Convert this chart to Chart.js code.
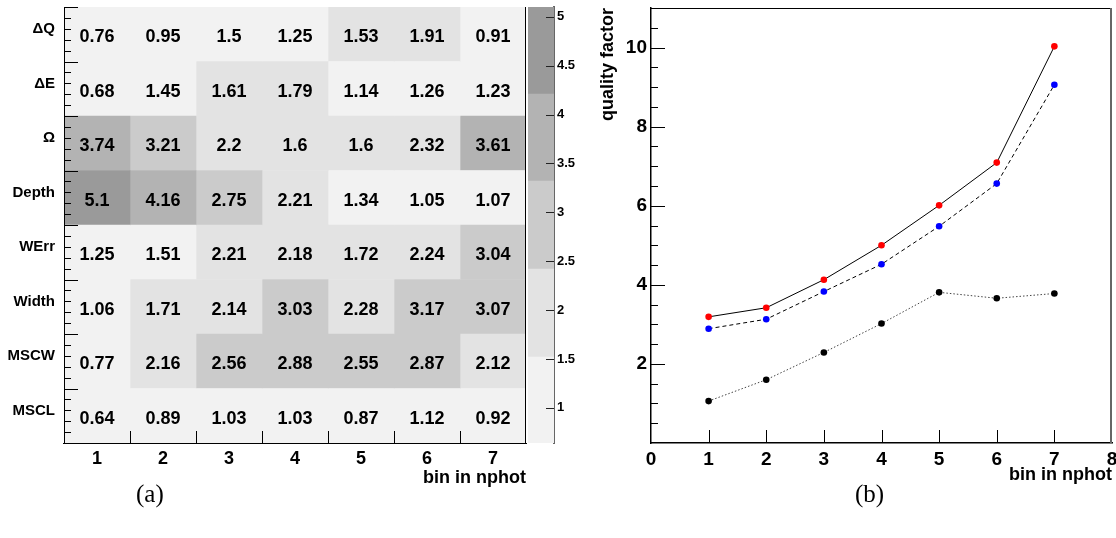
<!DOCTYPE html>
<html>
<head>
<meta charset="utf-8">
<script src="https://cdn.jsdelivr.net/npm/chart.js@4/dist/chart.umd.min.js"></script>
<style>
body { margin: 0; background: #fff; width: 1116px; height: 538px; position: relative; overflow: hidden; }
.box { position: absolute; top: 0; height: 490px; }
.cap { position: absolute; top: 481px; font: 25px "Liberation Serif", serif; line-height: 1; color: #000; }
</style>
</head>
<body>
<div class="box" style="left:0;width:527px"><canvas id="heat"></canvas></div>
<div class="box" style="left:527px;width:70px"><canvas id="palette"></canvas></div>
<div class="box" style="left:560px;width:556px"><canvas id="quality"></canvas></div>
<div class="cap" style="left:136px">(a)</div>
<div class="cap" style="left:855px">(b)</div>
<script>
// (a) heat map: rows = image parameters, columns = bins in nphot
const features = ["ΔQ", "ΔE", "Ω", "Depth", "WErr", "Width", "MSCW", "MSCL"];
const nphotBins = [1, 2, 3, 4, 5, 6, 7];
const dQ    = [0.76, 0.95, 1.5, 1.25, 1.53, 1.91, 0.91];
const dE    = [0.68, 1.45, 1.61, 1.79, 1.14, 1.26, 1.23];
const omega = [3.74, 3.21, 2.2, 1.6, 1.6, 2.32, 3.61];
const depth = [5.1, 4.16, 2.75, 2.21, 1.34, 1.05, 1.07];
const wErr  = [1.25, 1.51, 2.21, 2.18, 1.72, 2.24, 3.04];
const width = [1.06, 1.71, 2.14, 3.03, 2.28, 3.17, 3.07];
const mscw  = [0.77, 2.16, 2.56, 2.88, 2.55, 2.87, 2.12];
const mscl  = [0.64, 0.89, 1.03, 1.03, 0.87, 1.12, 0.92];
const matrix = [dQ, dE, omega, depth, wErr, width, mscw, mscl];

// contour levels of the grey palette and the colour bar ticks
const levels = [0.64, 1.52, 2.42, 3.32, 4.21, 5.1];
const greys = ["#f2f2f2", "#e3e3e3", "#cbcbcb", "#b3b3b3", "#9a9a9a"];
const paletteTicks = [1, 1.5, 2, 2.5, 3, 3.5, 4, 4.5, 5];

// (b) quality factor per bin
const qualityRed   = [3.19, 3.42, 4.13, 5.0, 6.01, 7.09, 10.03];
const qualityBlue  = [2.89, 3.13, 3.83, 4.52, 5.48, 6.56, 9.06];
const qualityBlack = [1.06, 1.60, 2.29, 3.02, 3.81, 3.66, 3.78];
const qualityTicks = [2, 4, 6, 8, 10];

const bold = size => ({ family: "Liberation Sans", size: size, weight: "bold" });

function shade(v) {
    for (let i = 1; i < levels.length; i++) {
        if (v < levels[i]) return greys[i - 1];
    }
    return greys[greys.length - 1];
}

// keep the frame where afterFit puts it, labels may overflow
function noPad(s) {
    s.paddingTop = 0;
    s.paddingBottom = 0;
    s.paddingLeft = 0;
    s.paddingRight = 0;
}

// ROOT style ticks pointing into the frame, plus frame lines on top of the cells
const innerTicks = {
    id: "innerTicks",
    afterDatasetsDraw(chart, args, opts) {
        const { ctx, chartArea: a } = chart;
        ctx.save();
        (opts.frame || []).forEach(f => {
            ctx.strokeStyle = f.color;
            ctx.lineWidth = f.width;
            ctx.beginPath();
            if (f.side === "top") { ctx.moveTo(a.left, a.top + 0.5); ctx.lineTo(a.right, a.top + 0.5); }
            if (f.side === "bottom") { ctx.moveTo(a.left - 1, a.bottom + 0.5); ctx.lineTo(a.right, a.bottom + 0.5); }
            if (f.side === "right") { ctx.moveTo(a.right - f.width / 2, a.top); ctx.lineTo(a.right - f.width / 2, a.bottom); }
            if (f.side === "left") { ctx.moveTo(a.left + 0.5, a.top); ctx.lineTo(a.left + 0.5, a.bottom + 1); }
            ctx.stroke();
        });
        ctx.strokeStyle = opts.color || "#000";
        ctx.lineWidth = 1;
        ctx.beginPath();
        (opts.x || []).forEach(([v, len]) => {
            const p = Math.round(chart.scales.x.getPixelForValue(v)) + 0.5;
            ctx.moveTo(p, a.bottom);
            ctx.lineTo(p, a.bottom - len);
        });
        (opts.y || []).forEach(([v, len]) => {
            const p = Math.round(chart.scales.y.getPixelForValue(v)) + 0.5;
            if (opts.right) {
                ctx.moveTo(a.right, p);
                ctx.lineTo(a.right - len, p);
            } else {
                ctx.moveTo(a.left, p);
                ctx.lineTo(a.left + len, p);
            }
        });
        ctx.stroke();
        ctx.restore();
    }
};

const cellText = {
    id: "cellText",
    afterDatasetsDraw(chart) {
        const ctx = chart.ctx;
        ctx.save();
        ctx.font = "bold 18px 'Liberation Sans'";
        ctx.fillStyle = "#000";
        ctx.textAlign = "center";
        ctx.textBaseline = "middle";
        chart.data.datasets.forEach((ds, c) => {
            chart.getDatasetMeta(c).data.forEach((bar, r) => {
                const pt = bar.getCenterPoint();
                ctx.fillText(String(ds.values[r]), pt.x, pt.y + 3);
            });
        });
        ctx.restore();
    }
};

// tick positions for the heat map frame
const heatXTicks = nphotBins.slice(1).map(b => [b - 0.5, 12]);
const heatYTicks = [];
features.forEach((f, i) => {
    heatYTicks.push([i - 0.5, 14]);
    for (let k = 1; k < 5; k++) heatYTicks.push([i - 0.5 + k / 5, 7]);
});
heatYTicks.push([features.length - 0.5, 14]);

new Chart(document.getElementById("heat"), {
    type: "bar",
    data: {
        labels: features,
        datasets: nphotBins.map((bin, c) => ({
            data: features.map(() => [bin - 0.5, bin + 0.5]),
            values: matrix.map(row => row[c]),
            backgroundColor: matrix.map(row => shade(row[c])),
            grouped: false,
            barPercentage: 1,
            categoryPercentage: 1,
            borderWidth: 0
        }))
    },
    options: {
        indexAxis: "y",
        animation: false,
        responsive: true,
        maintainAspectRatio: false,
        layout: { padding: { top: 7, right: 1 } },
        plugins: {
            legend: { display: false },
            tooltip: { enabled: false },
            innerTicks: {
                x: heatXTicks,
                y: heatYTicks,
                frame: [
                    { side: "right", color: "#000", width: 1 },
                    { side: "left", color: "#000", width: 1 },
                    { side: "bottom", color: "#000", width: 1 }
                ]
            }
        },
        scales: {
            x: {
                type: "linear",
                min: 0.5,
                max: 7.5,
                afterBuildTicks: s => { s.ticks = nphotBins.map(v => ({ value: v })); },
                afterFit: s => { s.height = 47; noPad(s); },
                grid: { display: false, drawTicks: false },
                border: { color: "#000" },
                ticks: { padding: 5, color: "#000", font: bold(18) },
                title: { display: true, text: "bin in nphot", align: "end", color: "#000", font: bold(18), padding: { top: 0, bottom: 1 } }
            },
            y: {
                afterFit: s => { s.width = 64; noPad(s); },
                grid: { display: false, drawTicks: false },
                border: { color: "#000" },
                ticks: { padding: 9, labelOffset: -5, color: "#000", font: bold(15) }
            }
        }
    },
    plugins: [innerTicks, cellText]
});

// colour bar of the heat map
new Chart(document.getElementById("palette"), {
    type: "bar",
    data: {
        labels: [""],
        datasets: greys.map((g, i) => ({
            data: [[levels[i], levels[i + 1]]],
            backgroundColor: g,
            grouped: false,
            barPercentage: 1,
            categoryPercentage: 1,
            borderWidth: 0
        }))
    },
    options: {
        animation: false,
        responsive: true,
        maintainAspectRatio: false,
        layout: { padding: { top: 7, bottom: 47, left: 1 } },
        plugins: {
            legend: { display: false },
            tooltip: { enabled: false },
            innerTicks: { right: true, color: "#222", y: paletteTicks.map(v => [v, 8]) }
        },
        scales: {
            x: { display: false },
            y: {
                position: "right",
                min: levels[0],
                max: levels[levels.length - 1],
                afterBuildTicks: s => { s.ticks = paletteTicks.map(v => ({ value: v })); },
                afterFit: s => { s.width = 43; noPad(s); },
                grid: { display: false, drawTicks: false },
                border: { color: "#666", width: 2 },
                ticks: { padding: 3, color: "#000", font: bold(13), callback: v => String(v) }
            }
        }
    },
    plugins: [innerTicks]
});

// (b) quality factor vs bin
const qualityTicksY = [];
for (let k = 1; k <= 21; k++) qualityTicksY.push([k * 0.5, k % 4 === 0 ? 14 : 7]);

new Chart(document.getElementById("quality"), {
    type: "line",
    data: {
        datasets: [
            { data: nphotBins.map((b, i) => ({ x: b, y: qualityRed[i] })), borderColor: "#000", borderWidth: 1, pointBackgroundColor: "#ff0000", pointBorderWidth: 0, pointRadius: 3.3, tension: 0 },
            { data: nphotBins.map((b, i) => ({ x: b, y: qualityBlue[i] })), borderColor: "#000", borderWidth: 1, borderDash: [4, 3], pointBackgroundColor: "#0000ff", pointBorderWidth: 0, pointRadius: 3.3, tension: 0 },
            { data: nphotBins.map((b, i) => ({ x: b, y: qualityBlack[i] })), borderColor: "#444", borderWidth: 1, borderDash: [1.5, 2], pointBackgroundColor: "#000", pointBorderWidth: 0, pointRadius: 3.3, tension: 0 }
        ]
    },
    options: {
        animation: false,
        responsive: true,
        maintainAspectRatio: false,
        layout: { padding: { top: 8, right: 4 } },
        plugins: {
            legend: { display: false },
            tooltip: { enabled: false },
            innerTicks: {
                x: nphotBins.map(b => [b, 13]),
                y: qualityTicksY,
                frame: [{ side: "top", color: "#000", width: 1 }, { side: "right", color: "#666", width: 2 }]
            }
        },
        scales: {
            x: {
                type: "linear",
                min: 0,
                max: 8,
                afterFit: s => { s.height = 47; noPad(s); },
                grid: { display: false, drawTicks: false },
                border: { color: "#000", width: 1.5 },
                ticks: { stepSize: 1, padding: 5, color: "#000", font: bold(19) },
                title: { display: true, text: "bin in nphot", align: "end", color: "#000", font: bold(18), padding: { top: 0, bottom: 4 } }
            },
            y: {
                min: 0,
                max: 11,
                afterBuildTicks: s => { s.ticks = qualityTicks.map(v => ({ value: v })); },
                afterFit: s => { s.width = 91; noPad(s); },
                grid: { display: false, drawTicks: false },
                border: { color: "#000", width: 1.5 },
                ticks: { padding: 4, color: "#000", font: bold(19) },
                title: { display: true, text: "quality factor", align: "end", color: "#000", font: bold(18), padding: { top: 37, bottom: 0 } }
            }
        }
    },
    plugins: [innerTicks]
});
</script>
</body>
</html>
